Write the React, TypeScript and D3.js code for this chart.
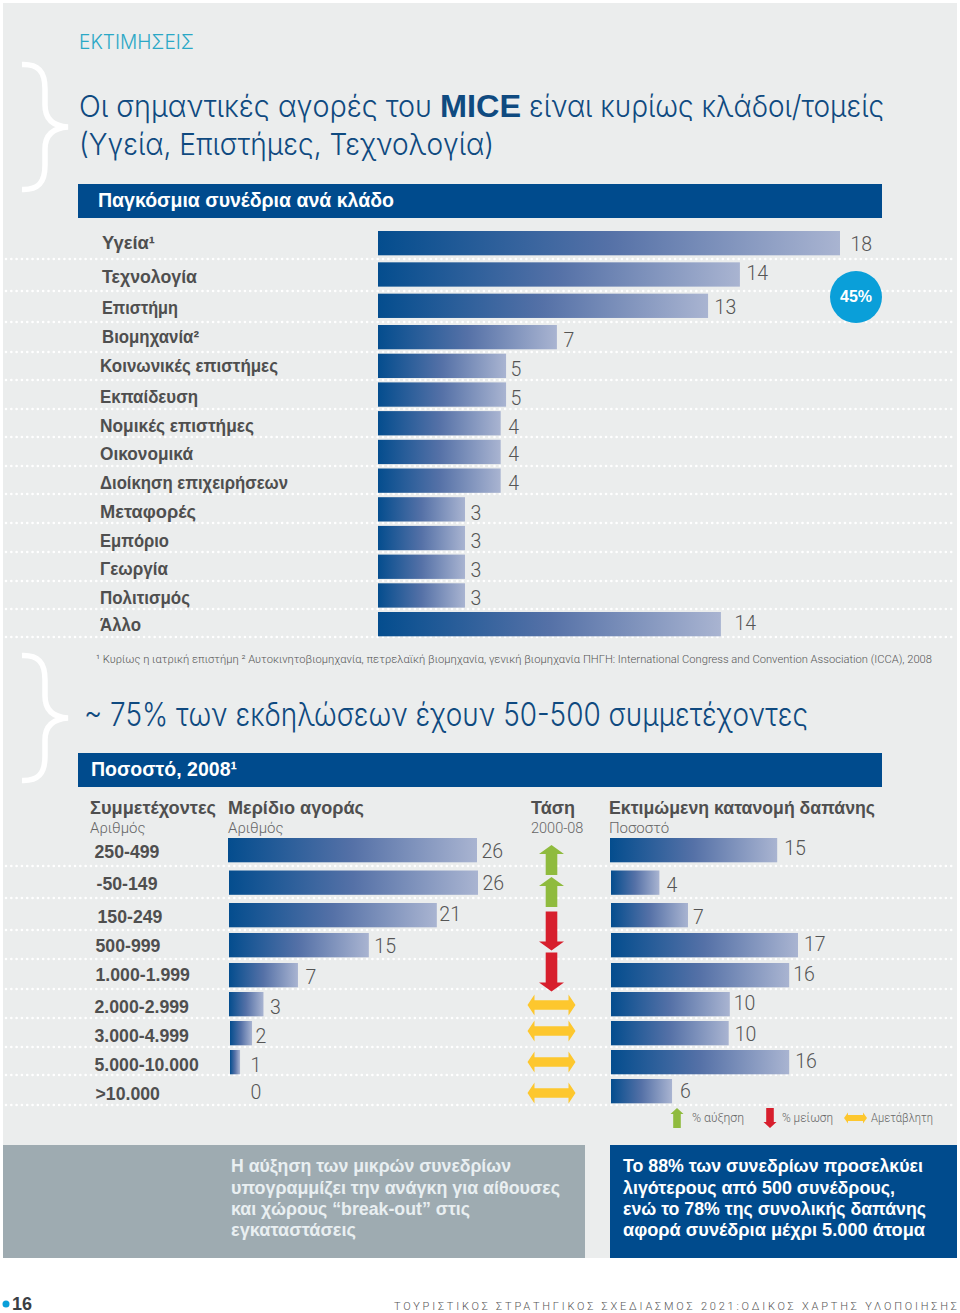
import React from "react";
import * as d3 from "d3";

// ---- data ----
const industries = ["Υγεία¹","Τεχνολογία","Επιστήμη","Βιομηχανία²","Κοινωνικές επιστήμες","Εκπαίδευση","Νομικές επιστήμες","Οικονομικά","Διοίκηση επιχειρήσεων","Μεταφορές","Εμπόριο","Γεωργία","Πολιτισμός","Άλλο"];
const industryLabels = [18,14,13,7,5,5,4,4,4,3,3,3,3,14];
// bar lengths as drawn in the picture (not strictly proportional to the printed labels)
const industryDrawn = [18,14.1,12.86,6.97,4.99,4.99,4.78,4.78,4.78,3.39,3.39,3.39,3.39,13.36];

const sizes = ["250-499","-50-149","150-249","500-999","1.000-1.999","2.000-2.999","3.000-4.999","5.000-10.000",">10.000"];
const shareLabels = [26,26,21,15,7,3,2,1,0];
const shareDrawn = [26,26,21.7,14.6,7.2,3.6,2.3,1.05,0];
const spendLabels = [15,4,7,17,16,10,10,16,6];
const spendDrawn = [15.2,4.4,7,17,16.2,10.8,10.7,16.2,5.55];
const trends = ["up","up","down",null,"down","flat","flat","flat","flat"];

// ---- layout nudges (small per-row offsets) ----
const indRowsDomain = [0,3,13], indRowsRange = [231,325,612];
const indLabelDx = [11,7,7,7,5,5,8,8,8,6,6,6,6,14];
const indLabelDy = [1,-1.5,1,3,3.3,3.6,3.9,2.2,2.5,3.8,3.1,3.4,2.7,-1];
const indNameDy = [0,2.5,2,0,0,2.6,3,2,2.5,3,3,2.4,2.7,1];
const indNameX = [102,102,102,102,100,100,100,100,100,100,100,100,100,100];
const indNameW = [53,95,76,97,178,98,154,93,188,96,69,68,90,41];
const indDots = [259,291,322,352,380,409,437,466,494,523,552,581,609,637];
const rowDomain = [0,2,4,8], rowRange = [838,903,963,1079];
const sizeX = [95,97,98,96,96,95,95,95,96];
const sizeDy = [1,0,1,0,-1,2,2,2,2];
const shareX0 = [228,229,229,229,229,229,230,230,229];
const shareDx = [5,5,3,6,8,7,4,11,22];
const shareDy = [0.5,0.5,-1,0.5,2,3,3,3,1];
const spendX0 = [610,611,611,611,611,611,611,611,611];
const spendDx = [8,8,6,7,5,5,7,7,9];
const spendDy = [0,4,4,1,1,1,3,1,2];
const trendDy = [10,9.5,16,0,-3,1,-2,0,2];
const botDots = [866,898,930,959,989,1018,1047,1075,1105];

const C = { navy:"#004b8d", title:"#0f4a80", teal:"#2aa8c6", text:"#4f4f4f", num:"#555", panel:"#ebeded", grey:"#9eabb1", green:"#8fbb3e", red:"#d71f2d", yellow:"#fdc72e", cyan:"#0a9fd9" };
const LIGHT = "Roboto, 'Liberation Sans', sans-serif";
const THIN = "Inter, Roboto, sans-serif";
const BOLD = "'Liberation Sans', Arial, sans-serif";

const yInd = d3.scaleLinear(indRowsDomain, indRowsRange);
const xInd = d3.scaleLinear([0,18],[0,462]);
const yRow = d3.scaleLinear(rowDomain, rowRange);
const xShare = d3.scaleLinear([0,26],[0,249]);
const xSpend = d3.scaleLinear([0,17],[0,187]);

const T = (p: any) => {
  const { x, y, size, bold, fill, w, children, ...rest } = p;
  const extra: any = w ? { textLength: w, lengthAdjust: "spacingAndGlyphs" } : {};
  return <text x={x} y={y} fontSize={size} fontFamily={bold ? BOLD : LIGHT} fontWeight={bold ? 700 : 300} fill={fill || C.text} {...extra} {...rest}>{children}</text>;
};

const Dots = ({ y }: { y: number }) => (
  <line x1={6} x2={955} y1={y} y2={y} stroke="#fff" strokeWidth={2.6} strokeLinecap="round" strokeDasharray="0.01 5.3" />
);

const Brace = ({ y }: { y: number }) => {
  const p = d3.path();
  p.moveTo(22, y + 1.5);
  p.bezierCurveTo(38, y + 1, 45, y + 8, 45, y + 26);
  p.lineTo(45, y + 42);
  p.bezierCurveTo(45, y + 55, 52, y + 63, 68, y + 64);
  p.bezierCurveTo(52, y + 65, 45, y + 73, 45, y + 86);
  p.lineTo(45, y + 102);
  p.bezierCurveTo(45, y + 120, 38, y + 127, 22, y + 126.5);
  return <path d={p.toString()} fill="none" stroke="#fff" strokeWidth={5.5} />;
};

const arrowV = (cx: number, top: number, bot: number, hw: number, sw: number, hh: number, dir: string) => {
  const p = d3.path();
  if (dir === "up") {
    p.moveTo(cx, top); p.lineTo(cx + hw, top + hh); p.lineTo(cx + sw, top + hh); p.lineTo(cx + sw, bot);
    p.lineTo(cx - sw, bot); p.lineTo(cx - sw, top + hh); p.lineTo(cx - hw, top + hh);
  } else {
    p.moveTo(cx, bot); p.lineTo(cx + hw, bot - hh); p.lineTo(cx + sw, bot - hh); p.lineTo(cx + sw, top);
    p.lineTo(cx - sw, top); p.lineTo(cx - sw, bot - hh); p.lineTo(cx - hw, bot - hh);
  }
  p.closePath();
  return p.toString();
};
const arrowH = (cx: number, cy: number, hw: number, hh: number, sh: number, head: number) => {
  const p = d3.path();
  p.moveTo(cx - hw, cy); p.lineTo(cx - hw + head, cy - hh); p.lineTo(cx - hw + head, cy - sh);
  p.lineTo(cx + hw - head, cy - sh); p.lineTo(cx + hw - head, cy - hh); p.lineTo(cx + hw, cy);
  p.lineTo(cx + hw - head, cy + hh); p.lineTo(cx + hw - head, cy + sh); p.lineTo(cx - hw + head, cy + sh);
  p.lineTo(cx - hw + head, cy + hh); p.closePath();
  return p.toString();
};

const leftText = ["Η αύξηση των μικρών συνεδρίων","υπογραμμίζει την ανάγκη για αίθουσες","και χώρους “break-out” στις","εγκαταστάσεις"];
const rightText = ["Το 88% των συνεδρίων προσελκύει","λιγότερους από 500 συνέδρους,","ενώ το 78% της συνολικής δαπάνης","αφορά συνέδρια μέχρι 5.000 άτομα"];
const leftW = [280,329,239,125];
const rightW = [300,272,303,302];
const boxY = [1172,1194,1215,1236];

export default function App() {
  return (
    <svg width={960} height={1313} style={{ position: "absolute", left: 0, top: 0, background: "#fff" }}>
      <defs>
        <linearGradient id="barG" x1="0" x2="1" y1="0" y2="0">
          <stop offset="0" stopColor="#044d8e" />
          <stop offset="0.5" stopColor="#5571a7" />
          <stop offset="1" stopColor="#a9b4d1" />
        </linearGradient>
      </defs>
      <rect x={3} y={3} width={954} height={1255} fill={C.panel} />
      <Brace y={63} />
      <Brace y={654} />

      <T x={79} y={49} size={20} fill={C.teal} w={115} fontFamily={THIN} fontWeight={300}>ΕΚΤΙΜΗΣΕΙΣ</T>
      <T x={79} y={117} size={30} fill={C.title} w={353} fontFamily={THIN} fontWeight={300}>Οι σημαντικές αγορές του</T>
      <T x={440} y={117} size={31} bold fill={C.title} w={81}>MICE</T>
      <T x={529} y={117} size={30} fill={C.title} w={355} fontFamily={THIN} fontWeight={300}>είναι κυρίως κλάδοι/τομείς</T>
      <T x={79} y={155} size={30} fill={C.title} w={415} fontFamily={THIN} fontWeight={300}>(Υγεία, Επιστήμες, Τεχνολογία)</T>

      <rect x={78} y={184} width={804} height={34} fill={C.navy} />
      <T x={98} y={207} size={20} bold fill="#fff" w={296}>Παγκόσμια συνέδρια ανά κλάδο</T>

      {indDots.map((y) => <Dots key={y} y={y} />)}
      {industries.map((n, i) => {
        const y = yInd(i);
        return (
          <g key={n}>
            <T x={indNameX[i]} y={y + 18 + indNameDy[i]} size={18} bold w={indNameW[i]}>{n}</T>
            <rect x={378} y={y} width={xInd(industryDrawn[i])} height={24.3} fill="url(#barG)" />
            <T x={378 + xInd(industryDrawn[i]) + indLabelDx[i] - 0.5} y={y + 19 + indLabelDy[i]} size={19.5} fill={C.num}>{industryLabels[i]}</T>
          </g>
        );
      })}
      <circle cx={856} cy={297} r={26} fill={C.cyan} />
      <T x={856} y={302} size={16} bold fill="#fff" textAnchor="middle">45%</T>

      <T x={96} y={663} size={11} fill="#555" w={836}>¹ Κυρίως η ιατρική επιστήμη ² Αυτοκινητοβιομηχανία, πετρελαϊκή βιομηχανία, γενική βιομηχανία  ΠΗΓΗ: International Congress and Convention Association (ICCA), 2008</T>

      <T x={84} y={726} size={32} fill={C.title} w={724} fontFamily={THIN} fontWeight={300}>~ 75% των εκδηλώσεων έχουν 50-500 συμμετέχοντες</T>

      <rect x={78} y={753} width={804} height={34} fill={C.navy} />
      <T x={91} y={776} size={20} bold fill="#fff" w={146}>Ποσοστό, 2008¹</T>

      <T x={90} y={814} size={19} bold w={126}>Συμμετέχοντες</T>
      <T x={228} y={814} size={19} bold w={136}>Μερίδιο αγοράς</T>
      <T x={531} y={814} size={19} bold w={44}>Τάση</T>
      <T x={609} y={814} size={19} bold w={266}>Εκτιμώμενη κατανομή δαπάνης</T>
      <T x={90} y={833} size={15} fill="#666">Αριθμός</T>
      <T x={228} y={833} size={15} fill="#666">Αριθμός</T>
      <T x={531} y={833} size={14.5} fill="#666">2000-08</T>
      <T x={609} y={833} size={15} fill="#666">Ποσοστό</T>

      {botDots.map((y) => <Dots key={y} y={y} />)}
      {sizes.map((n, i) => {
        const y = yRow(i);
        return (
          <g key={n}>
            <T x={sizeX[i] - 0.5} y={y + 19 + sizeDy[i]} size={17.7} bold>{n}</T>
            {shareDrawn[i] > 0 && <rect x={shareX0[i]} y={y} width={xShare(shareDrawn[i])} height={24.3} fill="url(#barG)" />}
            <T x={shareX0[i] + xShare(shareDrawn[i]) + shareDx[i] - 0.5} y={y + 19 + shareDy[i]} size={19.5} fill={C.num}>{shareLabels[i]}</T>
            <rect x={spendX0[i]} y={y} width={xSpend(spendDrawn[i])} height={24.3} fill="url(#barG)" />
            <T x={spendX0[i] + xSpend(spendDrawn[i]) + spendDx[i] - 1} y={y + 17 + spendDy[i]} size={19.5} fill={C.num}>{spendLabels[i]}</T>
          </g>
        );
      })}
      {trends.map((t, i) => {
        if (!t) return null;
        const c = yRow(i) + 12 + trendDy[i];
        if (t === "flat") return <path key={i} d={arrowH(551.5, c, 24, 10.5, 4.8, 7)} fill={C.yellow} />;
        const half = t === "up" ? 15 : 19.5;
        return <path key={i} d={arrowV(551.5, c - half, c + half, 12.5, 5.8, 9, t)} fill={t === "up" ? C.green : C.red} />;
      })}

      <path d={arrowV(677, 1108, 1128, 6.5, 3.8, 6, "up")} fill={C.green} />
      <T x={692} y={1122} size={12.5} fill="#666" w={52}>% αύξηση</T>
      <path d={arrowV(770, 1108, 1128, 6.5, 3.8, 6, "down")} fill={C.red} />
      <T x={782} y={1122} size={12.5} fill="#666" w={51}>% μείωση</T>
      <path d={arrowH(855.5, 1118, 11.5, 5.5, 3, 4)} fill={C.yellow} />
      <T x={871} y={1122} size={13} fill="#666" w={62}>Αμετάβλητη</T>

      <rect x={3} y={1145} width={582} height={113} fill={C.grey} />
      <rect x={610} y={1145} width={347} height={113} fill={C.navy} />
      {leftText.map((s, i) => <T key={s} x={231} y={boxY[i]} size={18} bold fill="#e9eff1" w={leftW[i]}>{s}</T>)}
      {rightText.map((s, i) => <T key={s} x={623} y={boxY[i]} size={18} bold fill="#fff" w={rightW[i]}>{s}</T>)}

      <circle cx={6} cy={1304} r={3.5} fill={C.cyan} />
      <T x={12} y={1310} size={18} bold fill="#3a3f45">16</T>
      <T x={394} y={1310} size={11} fill="#555" letterSpacing={4.05} textLength={567} lengthAdjust="spacing">ΤΟΥΡΙΣΤΙΚΟΣ ΣΤΡΑΤΗΓΙΚΟΣ ΣΧΕΔΙΑΣΜΟΣ 2021:ΟΔΙΚΟΣ ΧΑΡΤΗΣ ΥΛΟΠΟΙΗΣΗΣ</T>
    </svg>
  );
}
